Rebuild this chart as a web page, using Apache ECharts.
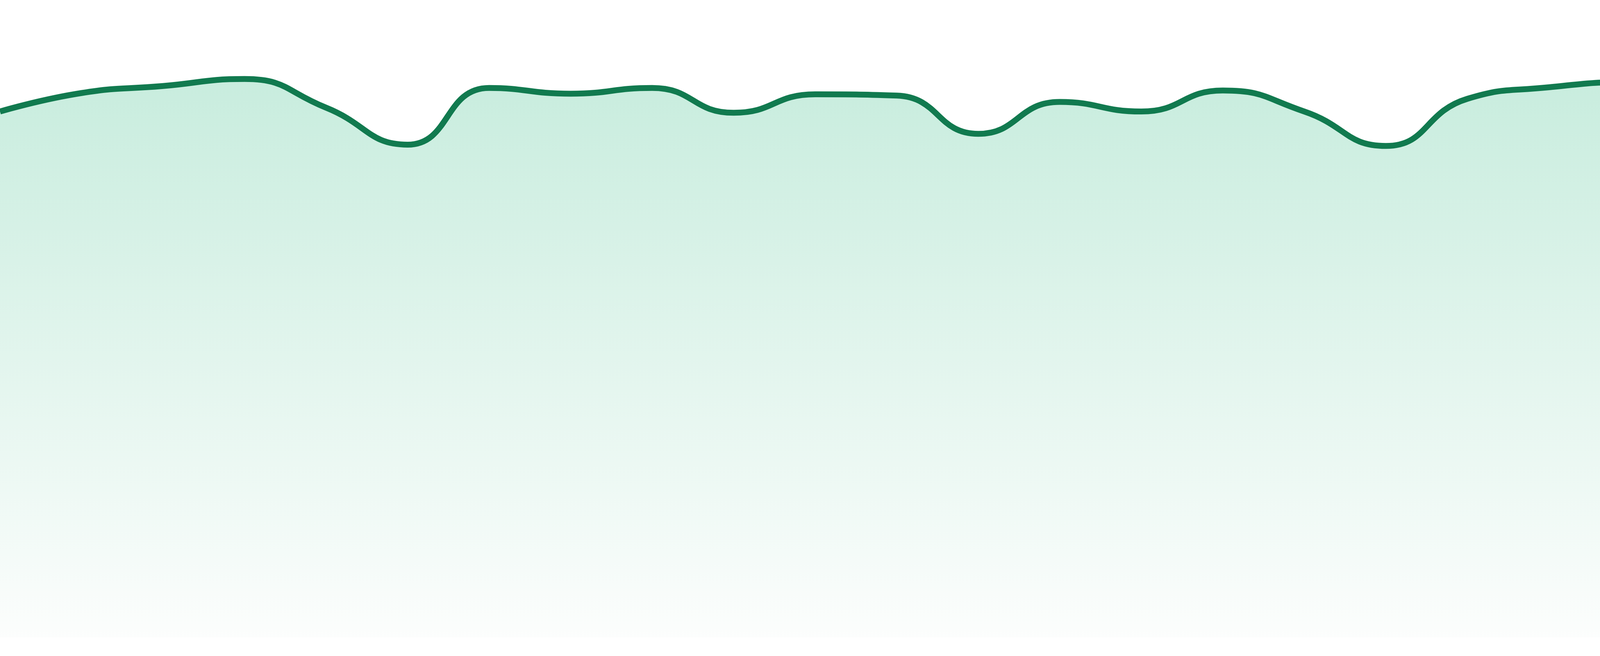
<!DOCTYPE html>
<html>
<head>
<meta charset="utf-8">
<script src="https://cdn.jsdelivr.net/npm/echarts@6/dist/echarts.min.js"></script>
<style>
	html, body { margin: 0; padding: 0; background: #fff; }
	#main { width: 4800px; height: 1680px; }
</style>
</head>
<body>
<div id="main"></div>
<script type="text/javascript">
	// categories and values
	var days = ['D1', 'D2', 'D3', 'D4', 'D5', 'D6', 'D7', 'D8', 'D9', 'D10', 'D11', 'D12',
		'D13', 'D14', 'D15', 'D16', 'D17', 'D18', 'D19', 'D20', 'D21', 'D22', 'D23', 'D24'];
	var values = [82.5, 85.4, 86.5, 87.6, 83.1, 77.3, 86.2, 85.3, 86.2, 82.3, 85.2, 85.0,
		79.0, 84.0, 82.5, 85.8, 82.5, 77.1, 84.5, 86.3, 87.1, 83.9, 87.1, 84.4];

	var myChart = echarts.init(document.getElementById('main'));
	myChart.setOption({
		animation: false,
		grid: { left: 0, right: 0, top: 0, bottom: 48 },
		xAxis: {
			type: 'category',
			data: days,
			boundaryGap: false,
			show: false
		},
		yAxis: {
			type: 'value',
			min: 0,
			max: 100,
			show: false
		},
		series: [{
			type: 'line',
			data: values,
			smooth: true,
			symbol: 'none',
			lineStyle: { color: '#117a4f', width: 15 },
			areaStyle: {
				color: new echarts.graphic.LinearGradient(0, 0, 0, 1, [
					{ offset: 0, color: '#b0e4cf' },
					{ offset: 1, color: '#fafcfb' }
				])
			}
		}]
	});
</script>
</body>
</html>
